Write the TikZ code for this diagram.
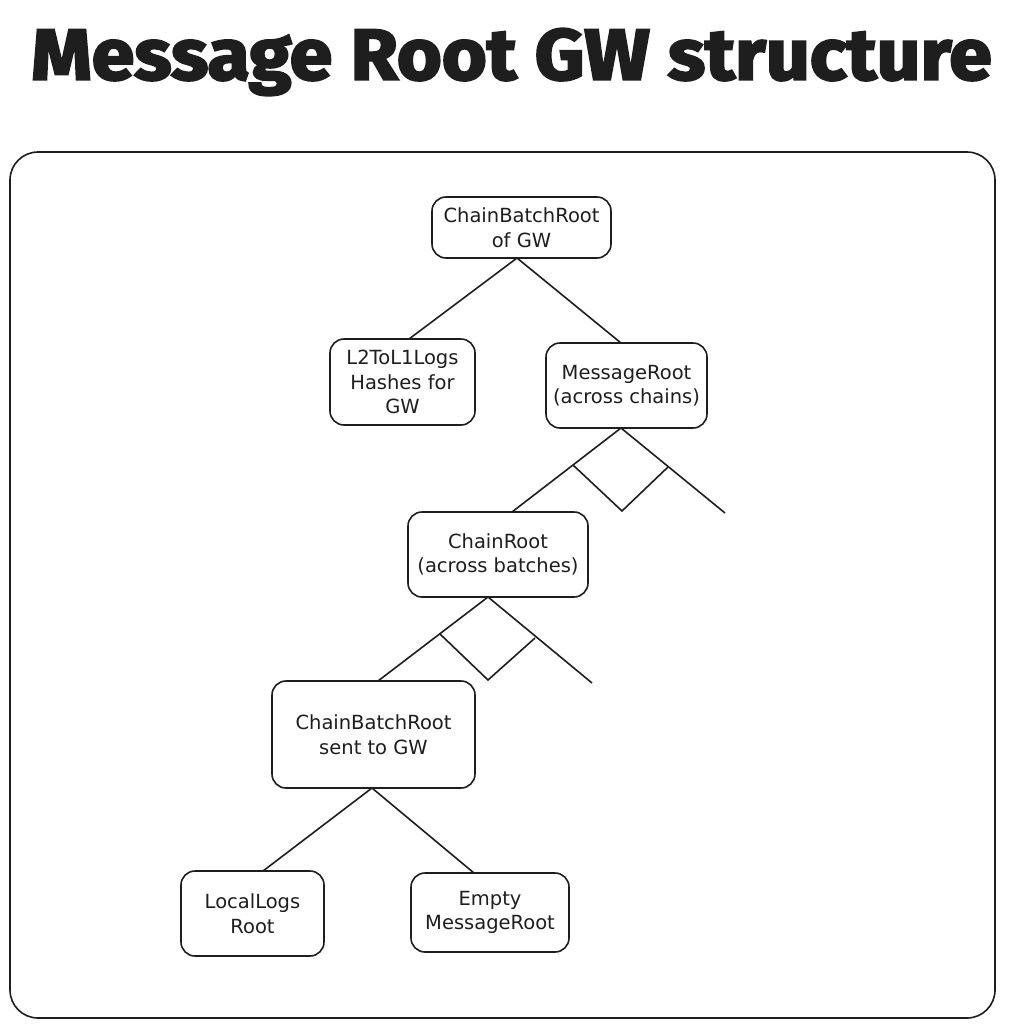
\documentclass[tikz,border=0pt]{standalone}
\usepackage{fontspec}
\setmainfont{DejaVu Sans}
\newfontfamily\titlefont[BoldFeatures={FakeBold=3}]{Fira Sans}
\newfontfamily\handfont{DejaVu Sans}
\definecolor{ink}{HTML}{1E1E1E}
\begin{document}
\begin{tikzpicture}[x=1pt,y=-1pt,
  box/.style={draw=ink, text=ink, line width=1.6pt, rounded corners=14pt, align=center,
     font=\handfont\fontsize{19.5}{24.5}\selectfont, inner sep=0pt},
  link/.style={draw=ink, line width=1.6pt}]
\useasboundingbox (0,0) rectangle (1017,1028);
\fill[white] (0,0) rectangle (1017,1028);
\node[text=ink] (title) at (511.5,62) {\scalebox{1.07}[1]{\titlefont\bfseries\fontsize{72}{80}\selectfont Message Root GW structure}};
\draw[link, rounded corners=28pt] (10,152) rectangle (995,1018);
\node[box, minimum width=179pt, minimum height=61pt] (top) at (521.5,227.5) {ChainBatchRoot\\of GW};
\node[box, minimum width=145pt, minimum height=86pt] (l2) at (402.5,382) {L2ToL1Logs\\Hashes for\\GW};
\node[box, minimum width=161pt, minimum height=85pt] (msg) at (626.5,385.5) {MessageRoot\\(across chains)};
\node[box, minimum width=180pt, minimum height=85pt] (chain) at (498,554.5) {ChainRoot\\(across batches)};
\node[box, minimum width=203pt, minimum height=107pt] (cbr) at (373.5,734.5) {ChainBatchRoot\\sent to GW};
\node[box, minimum width=143pt, minimum height=85pt] (local) at (252.5,913.5) {LocalLogs\\Root};
\node[box, minimum width=158pt, minimum height=79pt] (empty) at (490,912.5) {Empty\\MessageRoot};
% top level
\coordinate (topb) at (517,258);
\draw[link] (topb) -- (409,339);
\draw[link] (topb) -- (621,343);
% message root subtree
\coordinate (msgb) at (621,428);
\coordinate (md1) at (573,465);
\coordinate (md2) at (622,511);
\coordinate (md3) at (668,467);
\coordinate (mend) at (725,513);
\draw[link] (msgb) -- (512,512);
\draw[link] (msgb) -- (mend);
\draw[link] (md1) -- (md2) -- (md3);
% chain root subtree
\coordinate (chb) at (488,597);
\coordinate (cd1) at (440,634);
\coordinate (cd2) at (488,680);
\coordinate (cd3) at (535,638);
\coordinate (cend) at (592,683);
\draw[link] (chb) -- (378,681);
\draw[link] (chb) -- (cend);
\draw[link] (cd1) -- (cd2) -- (cd3);
% bottom
\coordinate (cbrb) at (372,788);
\draw[link] (cbrb) -- (263,871);
\draw[link] (cbrb) -- (474,873);
\end{tikzpicture}
\end{document}
